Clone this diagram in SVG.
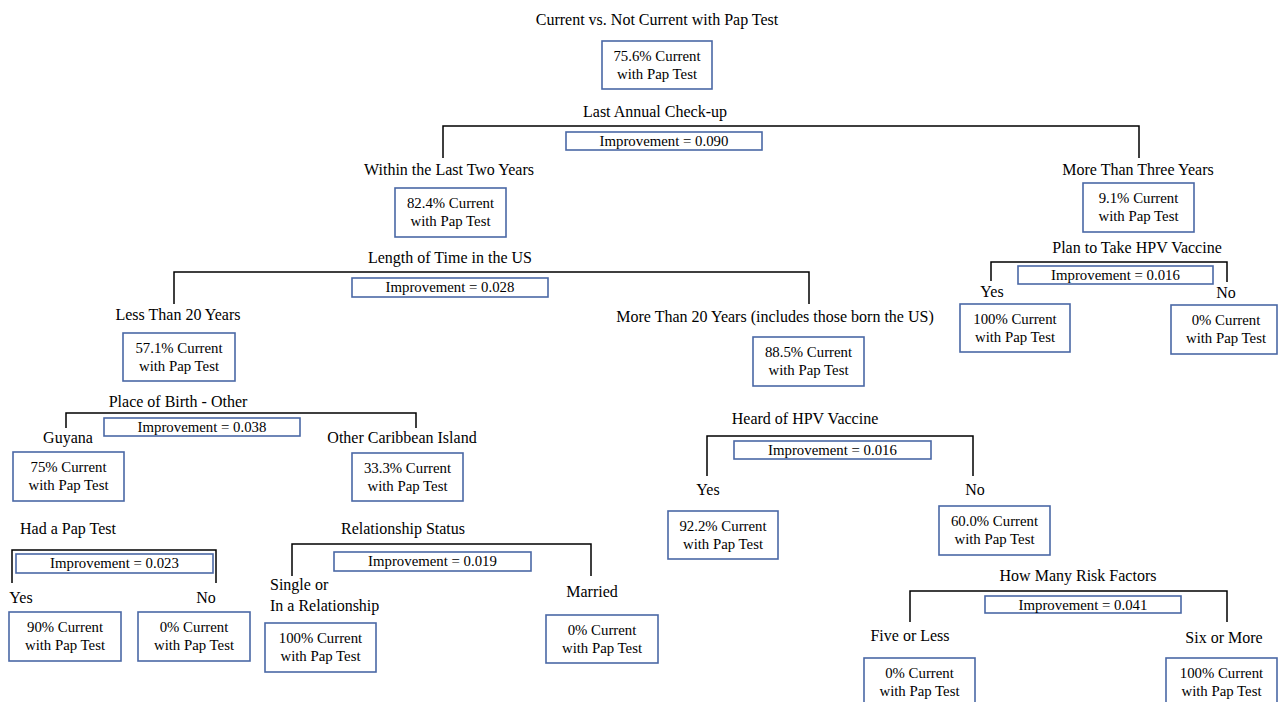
<svg xmlns="http://www.w3.org/2000/svg" width="1279" height="702" viewBox="0 0 1279 702">
<style>
text{font-family:"Liberation Serif","Times New Roman",serif;fill:#000}
.h{font-size:16px;text-anchor:middle}
.l{font-size:16px}
.b{font-size:14.8px;text-anchor:middle}
.box{fill:#fff;stroke:#4a68a6;stroke-width:1.6}
.br{fill:none;stroke:#000;stroke-width:1.5}
</style>
<rect width="1279" height="702" fill="#fff"/>
<g id="connectors">
<path class="br" d="M443,158V126H1139V158"/>
<path class="br" d="M174,304V272H809V304"/>
<path class="br" d="M66,428V413H416V428"/>
<path class="br" d="M12,583V550H216V583"/>
<path class="br" d="M292,576V544H591V576"/>
<path class="br" d="M707,476V436H973V476"/>
<path class="br" d="M910,622V591H1227V622"/>
<path class="br" d="M991,281V262H1227V282"/>
</g>
<g id="root">
<text class="h" x="657" y="25">Current vs. Not Current with Pap Test</text>
<rect class="box" x="602" y="41" width="110" height="48"/>
<text class="b" x="657" y="61">75.6% Current</text>
<text class="b" x="657" y="79">with Pap Test</text>
<text class="h" x="655" y="117">Last Annual Check-up</text>
<rect class="box" x="566" y="132" width="196" height="18"/>
<text class="b" x="664" y="146">Improvement = 0.090</text>
</g>
<g id="within-two-years">
<text class="h" x="449" y="175">Within the Last Two Years</text>
<rect class="box" x="395" y="188" width="111" height="49"/>
<text class="b" x="450.5" y="208">82.4% Current</text>
<text class="b" x="450.5" y="226">with Pap Test</text>
<text class="h" x="450" y="263">Length of Time in the US</text>
<rect class="box" x="352" y="278" width="196" height="19"/>
<text class="b" x="450" y="292">Improvement = 0.028</text>
</g>
<g id="less-than-20">
<text class="h" x="178" y="320">Less Than 20 Years</text>
<rect class="box" x="123" y="333" width="112" height="48"/>
<text class="b" x="179" y="353">57.1% Current</text>
<text class="b" x="179" y="371">with Pap Test</text>
<text class="h" x="178" y="407">Place of Birth - Other</text>
<rect class="box" x="104" y="418" width="196" height="18"/>
<text class="b" x="202" y="432">Improvement = 0.038</text>
</g>
<g id="guyana">
<text class="h" x="68" y="443">Guyana</text>
<rect class="box" x="13" y="452" width="111" height="49"/>
<text class="b" x="68.5" y="472">75% Current</text>
<text class="b" x="68.5" y="490">with Pap Test</text>
<text class="h" x="68" y="534">Had a Pap Test</text>
<rect class="box" x="16" y="554" width="197" height="19"/>
<text class="b" x="114.5" y="568">Improvement = 0.023</text>
</g>
<g id="pap-yes">
<text class="h" x="21" y="603">Yes</text>
<rect class="box" x="9" y="612" width="112" height="49"/>
<text class="b" x="65" y="632">90% Current</text>
<text class="b" x="65" y="650">with Pap Test</text>
</g>
<g id="pap-no">
<text class="h" x="206" y="603">No</text>
<rect class="box" x="138" y="612" width="112" height="49"/>
<text class="b" x="194" y="632">0% Current</text>
<text class="b" x="194" y="650">with Pap Test</text>
</g>
<g id="other-caribbean">
<text class="h" x="402" y="443">Other Caribbean Island</text>
<rect class="box" x="352" y="453" width="111" height="48"/>
<text class="b" x="407.5" y="473">33.3% Current</text>
<text class="b" x="407.5" y="491">with Pap Test</text>
<text class="h" x="403" y="534">Relationship Status</text>
<rect class="box" x="334" y="552" width="197" height="19"/>
<text class="b" x="432.5" y="566">Improvement = 0.019</text>
</g>
<g id="single">
<text class="l" x="270" y="590">Single or</text>
<text class="l" x="270" y="611">In a Relationship</text>
<rect class="box" x="265" y="623" width="111" height="49"/>
<text class="b" x="320.5" y="643">100% Current</text>
<text class="b" x="320.5" y="661">with Pap Test</text>
</g>
<g id="married">
<text class="h" x="592" y="597">Married</text>
<rect class="box" x="546" y="615" width="112" height="48"/>
<text class="b" x="602" y="635">0% Current</text>
<text class="b" x="602" y="653">with Pap Test</text>
</g>
<g id="more-than-20">
<text class="h" x="775" y="322">More Than 20 Years (includes those born the US)</text>
<rect class="box" x="753" y="337" width="111" height="49"/>
<text class="b" x="808.5" y="357">88.5% Current</text>
<text class="b" x="808.5" y="375">with Pap Test</text>
<text class="h" x="805" y="424">Heard of HPV Vaccine</text>
<rect class="box" x="734" y="441" width="197" height="18"/>
<text class="b" x="832.5" y="455">Improvement = 0.016</text>
</g>
<g id="heard-yes">
<text class="h" x="708" y="495">Yes</text>
<rect class="box" x="668" y="511" width="110" height="48"/>
<text class="b" x="723" y="531">92.2% Current</text>
<text class="b" x="723" y="549">with Pap Test</text>
</g>
<g id="heard-no">
<text class="h" x="975" y="495">No</text>
<rect class="box" x="939" y="506" width="111" height="49"/>
<text class="b" x="994.5" y="526">60.0% Current</text>
<text class="b" x="994.5" y="544">with Pap Test</text>
<text class="h" x="1078" y="581">How Many Risk Factors</text>
<rect class="box" x="985" y="596" width="196" height="17"/>
<text class="b" x="1083" y="609.5">Improvement = 0.041</text>
</g>
<g id="five-or-less">
<text class="h" x="910" y="641">Five or Less</text>
<rect class="box" x="864" y="658" width="111" height="48"/>
<text class="b" x="919.5" y="678">0% Current</text>
<text class="b" x="919.5" y="696">with Pap Test</text>
</g>
<g id="six-or-more">
<text class="h" x="1224" y="643">Six or More</text>
<rect class="box" x="1166" y="658" width="111" height="48"/>
<text class="b" x="1221.5" y="678">100% Current</text>
<text class="b" x="1221.5" y="696">with Pap Test</text>
</g>
<g id="more-than-three">
<text class="h" x="1138" y="175">More Than Three Years</text>
<rect class="box" x="1083" y="183" width="111" height="49"/>
<text class="b" x="1138.5" y="203">9.1% Current</text>
<text class="b" x="1138.5" y="221">with Pap Test</text>
<text class="h" x="1137" y="253">Plan to Take HPV Vaccine</text>
<rect class="box" x="1018" y="266" width="195" height="18"/>
<text class="b" x="1115.5" y="280">Improvement = 0.016</text>
</g>
<g id="plan-yes">
<text class="h" x="992" y="297">Yes</text>
<rect class="box" x="960" y="304" width="110" height="48"/>
<text class="b" x="1015" y="324">100% Current</text>
<text class="b" x="1015" y="342">with Pap Test</text>
</g>
<g id="plan-no">
<text class="h" x="1226" y="298">No</text>
<rect class="box" x="1171" y="305" width="106" height="49"/>
<text class="b" x="1226" y="325">0% Current</text>
<text class="b" x="1226" y="343">with Pap Test</text>
</g>
</svg>
